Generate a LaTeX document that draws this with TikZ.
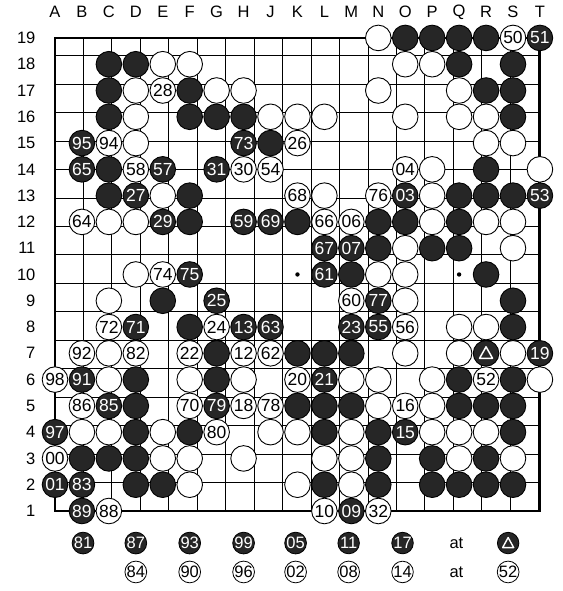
\documentclass[tikz,border=0pt]{standalone}
\usepackage{fontspec}
\setmainfont{Liberation Sans}
\begin{document}
\begin{tikzpicture}[x=26.94pt,y=26.28pt,
  lab/.style={font=\fontsize{16.5}{16.5}\selectfont, inner sep=0pt},
  stone/.style={circle, draw=black, line width=0.9pt, minimum size=25.6pt, inner sep=0pt, font=\fontsize{17.5}{17.5}\selectfont},
  bst/.style={stone, fill=black!85, text=white},
  wst/.style={stone, fill=white, text=black},
  lstone/.style={circle, draw=black, line width=0.8pt, minimum size=21.5pt, inner sep=0pt, font=\fontsize{16.5}{16.5}\selectfont},
  lbst/.style={lstone, fill=black!85, text=white},
  lwst/.style={lstone, fill=white, text=black},
  tri/.style={white, line width=1.5pt, line join=round}]
\useasboundingbox (-2.0416,-3.044) rectangle (18.82,19.444);
% board
\draw[line width=0.9pt] (0,0) grid (18,18);
\draw[line width=1.9pt] (0,0) rectangle (18,18);
\foreach \c/\r in {3/3,9/3,15/3,3/9,9/9,15/9,3/15,9/15,15/15}
  \fill (\c,\r) circle (2.2pt);
% labels
\foreach \r in {1,...,19}
  \node[lab, anchor=east] (row\r) at (-0.72,{\r-1}) {\r};
\foreach [count=\i from 0] \l in {A,B,C,D,E,F,G,H,J,K,L,M,N,O,P,Q,R,S,T}
  \node[lab] (col\i) at (\i,18.99) {\l};
% plain black stones
\foreach \c/\r in {13/18,14/18,15/18,16/18,
  2/17,3/17,15/17,17/17,
  2/16,5/16,16/16,17/16,
  2/15,5/15,6/15,7/15,17/15,
  8/14,
  2/13,16/13,
  2/12,5/12,15/12,16/12,17/12,
  5/11,9/11,12/11,13/11,15/11,
  12/10,14/10,15/10,
  11/9,16/9,
  4/8,17/8,
  5/7,17/7,
  6/6,9/6,10/6,11/6,
  3/5,6/5,15/5,17/5,
  3/4,9/4,10/4,11/4,15/4,16/4,17/4,
  3/3,5/3,10/3,12/3,17/3,
  1/2,2/2,3/2,12/2,14/2,16/2,
  3/1,4/1,10/1,12/1,14/1,15/1,16/1,17/1}
  \node[bst] (b\c-\r) at (\c,\r) {};
% plain white stones
\foreach \c/\r in {12/18,
  4/17,5/17,13/17,14/17,
  3/16,6/16,7/16,12/16,15/16,
  3/15,8/15,9/15,10/15,13/15,15/15,16/15,
  3/14,16/14,17/14,
  14/13,18/13,
  4/12,10/12,14/12,
  2/11,3/11,14/11,16/11,17/11,
  13/10,17/10,
  3/9,12/9,13/9,
  2/8,13/8,
  15/7,16/7,
  2/6,13/6,15/6,17/6,
  2/5,5/5,7/5,11/5,12/5,14/5,18/5,
  12/4,14/4,
  1/3,2/3,4/3,8/3,9/3,11/3,14/3,15/3,16/3,
  4/2,5/2,7/2,10/2,11/2,15/2,17/2,
  5/1,9/1,11/1}
  \node[wst] (w\c-\r) at (\c,\r) {};
% numbered black stones
\foreach \c/\r/\n in {1/14/95,1/13/65,4/13/57,6/13/31,7/14/73,3/12/27,13/12/03,18/12/53,
  18/18/51,4/11/29,7/11/59,8/11/69,10/10/67,11/10/07,10/9/61,5/9/75,6/8/25,12/8/77,
  3/7/71,7/7/13,8/7/63,11/7/23,12/7/55,18/6/19,1/5/91,10/5/21,2/4/85,6/4/79,
  0/3/97,13/3/15,0/1/01,1/1/83,1/0/89,11/0/09}
  \node[bst] (n\c-\r) at (\c,\r) {\n};
% numbered white stones
\foreach \c/\r/\n in {4/16/28,2/14/94,9/14/26,3/13/58,7/13/30,8/13/54,13/13/04,9/12/68,
  12/12/76,17/18/50,1/11/64,10/11/66,11/11/06,4/9/74,11/8/60,2/7/72,6/7/24,13/7/56,
  1/6/92,3/6/82,5/6/22,7/6/12,8/6/62,0/5/98,9/5/20,16/5/52,1/4/86,5/4/70,7/4/18,
  8/4/78,13/4/16,6/3/80,0/2/00,2/0/88,10/0/10,12/0/32}
  \node[wst] (n\c-\r) at (\c,\r) {\n};
% marked stone R7
\node[bst] (mark) at (16,6) {};
\draw[tri] ([shift={(0pt,6.5pt)}]mark.center) -- ([shift={(-6.5pt,-5pt)}]mark.center)
  -- ([shift={(6.5pt,-5pt)}]mark.center) -- cycle;
% legend
\node[lbst] (l81) at (1.04,-1.22) {81};
\foreach \x/\a/\b in {3.0/87/84,5.0/93/90,7.0/99/96,8.93/05/02,10.9/11/08,12.9/17/14}{
  \node[lbst] (la\a) at (\x,-1.22) {\a};
  \node[lwst] (lb\b) at (\x,-2.32) {\b};
}
\node[lab] (at1) at (14.9,-1.22) {at};
\node[lab] (at2) at (14.9,-2.32) {at};
\node[lbst] (lmark) at (16.82,-1.22) {};
\draw[tri, line width=1.4pt] ([shift={(0pt,5.5pt)}]lmark.center) -- ([shift={(-5.5pt,-4.5pt)}]lmark.center)
  -- ([shift={(5.5pt,-4.5pt)}]lmark.center) -- cycle;
\node[lwst] (l52) at (16.82,-2.32) {52};
\end{tikzpicture}
\end{document}
